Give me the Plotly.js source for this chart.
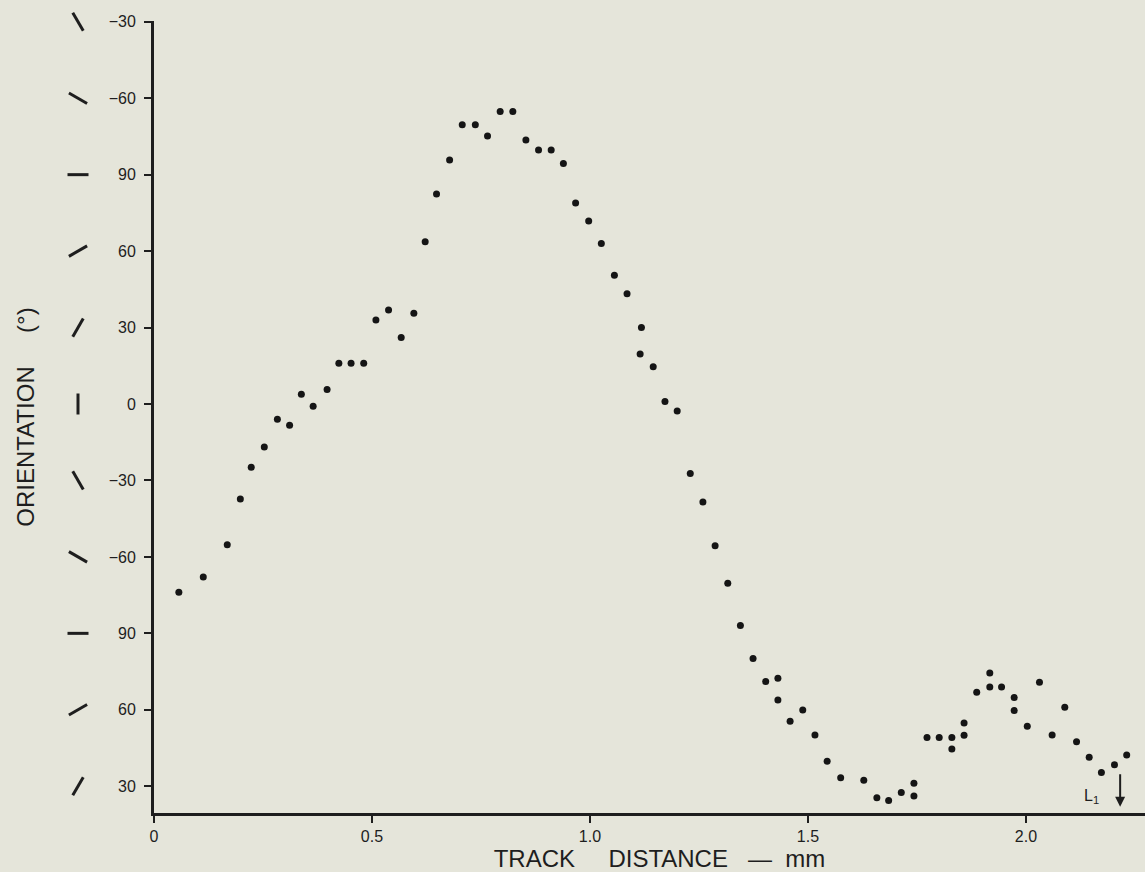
<!DOCTYPE html>
<html>
<head>
<meta charset="utf-8">
<script src="https://cdn.plot.ly/plotly-3.0.1.min.js"></script>
<style>
  html, body { margin: 0; padding: 0; background: #e5e5da; }
  #chart { width: 1145px; height: 872px; }
</style>
</head>
<body>
<div id="chart"></div>
<script>
// Track distance (mm)
const distance = [
  0.057, 0.113, 0.168, 0.198, 0.223, 0.253, 0.283, 0.311, 0.338, 0.365,
  0.397, 0.424, 0.452, 0.481, 0.509, 0.538, 0.567, 0.596, 0.622, 0.648,
  0.678, 0.707, 0.737, 0.765, 0.794, 0.823, 0.853, 0.882, 0.911, 0.939,
  0.967, 0.997, 1.026, 1.056, 1.085, 1.118, 1.115, 1.145, 1.172, 1.200,
  1.230, 1.259, 1.287, 1.316, 1.345, 1.374, 1.403, 1.431, 1.431, 1.459,
  1.488, 1.516, 1.544, 1.575, 1.628, 1.658, 1.685, 1.714, 1.743, 1.743,
  1.773, 1.801, 1.830, 1.830, 1.858, 1.858, 1.887, 1.917, 1.917, 1.944,
  1.973, 1.973, 2.003, 2.031, 2.060, 2.089, 2.116, 2.145, 2.173, 2.203,
  2.231
];
// Orientation (degrees, unwrapped continuous scale; labels wrap every 180°)
const orientation = [
  -73.9, -67.9, -55.2, -37.3, -24.8, -16.9, -6.0, -8.3, 3.8, -0.9,
  5.7, 16.0, 16.0, 16.0, 33.0, 36.9, 26.1, 35.6, 63.7, 82.4,
  95.8, 109.6, 109.6, 105.2, 114.8, 114.8, 103.6, 99.7, 99.7, 94.4,
  78.9, 71.8, 63.0, 50.5, 43.3, 30.0, 19.6, 14.6, 1.0, -2.7,
  -27.3, -38.5, -55.6, -70.3, -86.9, -99.9, -108.9, -107.6, -116.2, -124.5,
  -120.1, -129.9, -140.2, -146.7, -147.6, -154.5, -155.6, -152.5, -148.8, -153.8,
  -130.9, -130.9, -130.9, -135.4, -125.2, -130.0, -113.1, -105.6, -111.1, -111.1,
  -115.2, -120.3, -126.5, -109.2, -129.9, -119.0, -132.5, -138.6, -144.6, -141.6,
  -137.7
];

// Y ticks (continuous value) and their printed labels
const yTickVals = [-150, -120, -90, -60, -30, 0, 30, 60, 90, 120, 150];
const yTickText = ["30", "60", "90", "\u221260", "\u221230", "0", "30", "60", "90", "\u221260", "\u221230"];
// Orientation glyph angle shown beside each y tick (clockwise from vertical)
const glyphAngles = [30, 60, 90, -60, -30, 0, 30, 60, 90, -60, -30];

// X ticks
const xTickVals = [0, 0.5, 1.0, 1.5, 2.0];
const xTickText = ["0", "0.5", "1.0", "1.5", "2.0"];

const ink = "#1e1e1e";
const bg = "#e5e5da";
const W = 1145, H = 872;
const plotLeft = 154;            // px where the y axis sits
const split = plotLeft / W;      // paper fraction
const glyphPos = 78 / plotLeft;  // glyph column within the left strip

const traces = [
  {
    type: "scatter", mode: "markers",
    x: distance, y: orientation,
    marker: { color: "#151515", size: 7, line: { width: 0 } },
    hoverinfo: "x+y", showlegend: false
  },
  {
    type: "scatter", mode: "markers",
    xaxis: "x2", yaxis: "y", cliponaxis: false,
    x: yTickVals.map(() => glyphPos), y: yTickVals,
    marker: {
      symbol: "line-ns", size: 15, angle: glyphAngles,
      color: ink, line: { color: ink, width: 3 }
    },
    hoverinfo: "skip", showlegend: false
  }
];

const titleFont = { size: 24, family: "Liberation Sans, Arial, sans-serif", color: ink };

const layout = {
  width: W, height: H,
  margin: { l: 0, r: 0, t: 21, b: 59 },
  paper_bgcolor: bg, plot_bgcolor: bg,
  font: { family: "Liberation Sans, Arial, sans-serif", color: ink },
  xaxis: {
    domain: [split, 1],
    range: [0, 2.273],
    tickvals: xTickVals, ticktext: xTickText,
    ticks: "outside", ticklen: 7, tickwidth: 2, tickcolor: ink,
    showline: true, linecolor: ink, linewidth: 3,
    showgrid: false, zeroline: false,
    tickfont: { size: 16, family: "Liberation Sans, Arial, sans-serif", color: ink },
    title: {
      text: "&nbsp;&nbsp;&nbsp;TRACK&nbsp;&nbsp;&nbsp;&nbsp;&nbsp;DISTANCE&nbsp;&nbsp;&nbsp;\u2014&nbsp;&nbsp;mm",
      font: titleFont,
      standoff: 3
    }
  },
  xaxis2: {
    domain: [0, split],
    range: [0, 1], anchor: "y",
    visible: false, fixedrange: true
  },
  yaxis: {
    range: [-160.5, 150.3],
    tickvals: yTickVals, ticktext: yTickText,
    ticks: "outside", ticklen: 7, tickwidth: 2, tickcolor: ink,
    ticklabelstandoff: 5,
    showline: true, linecolor: ink, linewidth: 3,
    showgrid: false, zeroline: false,
    tickfont: { size: 16, family: "Liberation Sans, Arial, sans-serif", color: ink },
    title: {
      text: "ORIENTATION&nbsp;&nbsp;&nbsp;&nbsp;&nbsp;(\u00b0)",
      font: titleFont,
      standoff: 68
    }
  },
  annotations: [
    {
      x: 2.216, y: -158, xref: "x", yref: "y",
      text: "", showarrow: true, arrowhead: 2, arrowsize: 1, arrowwidth: 2,
      arrowcolor: ink, ax: 0, ay: -34
    },
    {
      x: 2.150, y: -154, xref: "x", yref: "y",
      text: "L<sub>1</sub>", showarrow: false,
      font: { size: 16, color: ink, family: "Liberation Sans, Arial, sans-serif" }
    }
  ]
};

Plotly.newPlot("chart", traces, layout, { displayModeBar: false, staticPlot: true });
</script>
</body>
</html>
